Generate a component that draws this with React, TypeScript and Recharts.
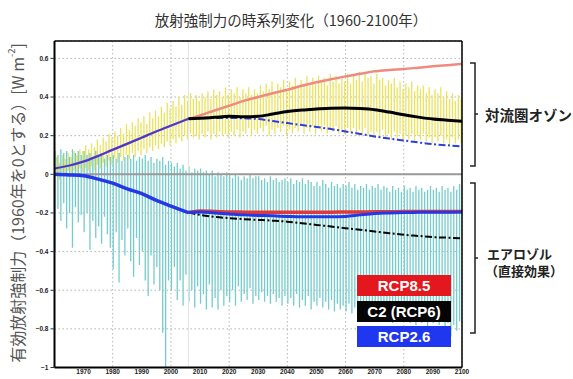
import React from 'react';
import { ComposedChart, Bar, Line, XAxis, YAxis, CartesianGrid, ReferenceLine, Legend } from 'recharts';

// ---------- categories / ticks ----------
const years: number[] = Array.from({ length: 141 }, (_, i) => 1960 + i);
const xTicks = [1970, 1980, 1990, 2000, 2010, 2020, 2030, 2040, 2050, 2060, 2070, 2080, 2090, 2100];
const yTicks = [-1, -0.8, -0.6, -0.4, -0.2, 0, 0.2, 0.4, 0.6];

// ---------- tropospheric ozone, monthly variability (yellow strokes) ----------
const yellowHigh = [
  0.07, 0.09, 0.06, 0.10, 0.08, 0.11, 0.09, 0.12, 0.10, 0.13,
  0.12, 0.15, 0.13, 0.16, 0.14, 0.18, 0.15, 0.19, 0.17, 0.21,
  0.19, 0.22, 0.20, 0.24, 0.21, 0.26, 0.23, 0.27, 0.25, 0.29,
  0.27, 0.30, 0.26, 0.32, 0.29, 0.33, 0.30, 0.35, 0.32, 0.37,
  0.34, 0.38, 0.35, 0.40, 0.36, 0.41, 0.38, 0.42, 0.39, 0.41,
  0.38, 0.42, 0.40, 0.43, 0.39, 0.44, 0.41, 0.43, 0.40, 0.45,
  0.41, 0.44, 0.42, 0.45, 0.40, 0.44, 0.42, 0.45, 0.41, 0.44,
  0.42, 0.46, 0.43, 0.47, 0.44, 0.48, 0.43, 0.47, 0.45, 0.49,
  0.44, 0.48, 0.46, 0.50, 0.45, 0.49, 0.47, 0.51, 0.46, 0.50,
  0.47, 0.51, 0.48, 0.50, 0.46, 0.52, 0.48, 0.51, 0.47, 0.50,
  0.48, 0.52, 0.47, 0.51, 0.49, 0.53, 0.48, 0.52, 0.50, 0.51,
  0.47, 0.52, 0.49, 0.50, 0.46, 0.49, 0.47, 0.50, 0.45, 0.48,
  0.44, 0.47, 0.45, 0.48, 0.43, 0.46, 0.44, 0.46, 0.42, 0.45,
  0.41, 0.44, 0.42, 0.45, 0.40, 0.43, 0.39, 0.42, 0.38, 0.41,
  0.39,
];
const yellowLow = [
  -0.02, 0.00, -0.03, 0.01, -0.01, 0.02, 0.00, 0.02, 0.01, 0.03,
  0.01, 0.03, 0.02, 0.04, 0.02, 0.05, 0.03, 0.06, 0.04, 0.07,
  0.05, 0.08, 0.06, 0.09, 0.07, 0.10, 0.08, 0.11, 0.09, 0.12,
  0.10, 0.13, 0.11, 0.14, 0.12, 0.15, 0.13, 0.16, 0.14, 0.17,
  0.15, 0.18, 0.16, 0.19, 0.17, 0.20, 0.18, 0.21, 0.19, 0.20,
  0.18, 0.21, 0.19, 0.22, 0.18, 0.21, 0.19, 0.22, 0.20, 0.21,
  0.19, 0.22, 0.20, 0.23, 0.19, 0.22, 0.21, 0.24, 0.20, 0.23,
  0.21, 0.24, 0.22, 0.25, 0.20, 0.23, 0.21, 0.24, 0.22, 0.25,
  0.20, 0.23, 0.21, 0.24, 0.22, 0.25, 0.21, 0.24, 0.22, 0.25,
  0.21, 0.24, 0.22, 0.25, 0.21, 0.24, 0.22, 0.25, 0.21, 0.23,
  0.21, 0.24, 0.22, 0.24, 0.20, 0.23, 0.21, 0.24, 0.20, 0.22,
  0.19, 0.22, 0.20, 0.23, 0.19, 0.21, 0.18, 0.22, 0.19, 0.21,
  0.17, 0.20, 0.18, 0.21, 0.17, 0.20, 0.18, 0.21, 0.17, 0.19,
  0.16, 0.19, 0.17, 0.20, 0.16, 0.18, 0.15, 0.19, 0.16, 0.18,
  0.16,
];

// ---------- aerosol direct effect, monthly variability (cyan strokes) ----------
const cyanHigh = [
  0.12, 0.10, 0.13, 0.11, 0.12, 0.09, 0.13, 0.11, 0.12, 0.10,
  0.12, 0.10, 0.11, 0.09, 0.12, 0.10, 0.11, 0.08, 0.10, 0.09,
  0.10, 0.08, 0.11, 0.07, 0.09, 0.10, 0.08, 0.10, 0.07, 0.09,
  0.08, 0.10, 0.07, 0.09, 0.06, 0.08, 0.07, 0.09, 0.05, 0.07,
  0.06, 0.04, 0.06, 0.03, 0.05, 0.02, 0.04, 0.01, 0.03, 0.02,
  0.03, 0.01, 0.02, 0.00, 0.02, -0.01, 0.01, 0.00, -0.01, 0.01,
  0.00, -0.02, 0.00, -0.01, -0.03, -0.01, -0.02, 0.00, -0.02, -0.01,
  -0.01, -0.03, -0.02, -0.04, -0.01, -0.03, -0.02, -0.04, -0.03, -0.02,
  -0.04, -0.02, -0.05, -0.03, -0.04, -0.02, -0.05, -0.03, -0.04, -0.06,
  -0.04, -0.06, -0.03, -0.05, -0.07, -0.04, -0.06, -0.05, -0.07, -0.05,
  -0.06, -0.04, -0.07, -0.05, -0.08, -0.06, -0.07, -0.05, -0.08, -0.06,
  -0.07, -0.05, -0.08, -0.06, -0.07, -0.09, -0.06, -0.08, -0.07, -0.09,
  -0.06, -0.08, -0.07, -0.09, -0.06, -0.08, -0.07, -0.09, -0.08, -0.06,
  -0.08, -0.07, -0.09, -0.06, -0.08, -0.07, -0.09, -0.06, -0.08, -0.05,
  -0.06,
];
const cyanLow = [
  -0.40, -0.18, -0.24, -0.15, -0.28, -0.20, -0.38, -0.17, -0.25, -0.21,
  -0.30, -0.20, -0.39, -0.24, -0.33, -0.27, -0.36, -0.22, -0.31, -0.38,
  -0.49, -0.30, -0.56, -0.34, -0.42, -0.28, -0.45, -0.53, -0.33, -0.47,
  -0.40, -0.55, -0.63, -0.42, -0.57, -0.48, -0.60, -0.82, -1.00, -0.55,
  -0.60, -0.48, -0.65, -0.55, -0.68, -0.52, -0.66, -0.60, -0.69, -0.58,
  -0.67, -0.62, -0.70, -0.57, -0.69, -0.64, -0.70, -0.60, -0.68, -0.63,
  -0.66, -0.60, -0.68, -0.58, -0.66, -0.62, -0.65, -0.59, -0.67, -0.63,
  -0.65, -0.61, -0.66, -0.63, -0.67, -0.62, -0.66, -0.64, -0.68, -0.63,
  -0.67, -0.64, -0.68, -0.62, -0.69, -0.65, -0.68, -0.63, -0.70, -0.66,
  -0.68, -0.64, -0.69, -0.66, -0.70, -0.65, -0.71, -0.67, -0.70, -0.68,
  -0.71, -0.67, -0.72, -0.69, -0.73, -0.70, -0.74, -0.71, -0.75, -0.72,
  -0.75, -0.72, -0.76, -0.73, -0.75, -0.74, -0.77, -0.73, -0.76, -0.74,
  -0.76, -0.73, -0.77, -0.75, -0.78, -0.74, -0.77, -0.75, -0.79, -0.76,
  -0.77, -0.74, -0.78, -0.76, -0.80, -0.77, -0.84, -0.78, -0.81, -0.76,
  -0.78,
];

// ---------- smooth mean curves ----------
const histYears = [1960, 1965, 1970, 1975, 1980, 1985, 1990, 1995, 2000, 2006];
const futureYears = [2006, 2010, 2015, 2020, 2025, 2030, 2035, 2040, 2045, 2050, 2055, 2060, 2065, 2070, 2075, 2080, 2085, 2090, 2095, 2100];

const ozoneHist = [0.03, 0.045, 0.066, 0.095, 0.127, 0.158, 0.19, 0.222, 0.252, 0.287];
const ozoneRcp85 = [0.287, 0.305, 0.33, 0.355, 0.38, 0.40, 0.42, 0.438, 0.458, 0.476, 0.492, 0.507, 0.52, 0.533, 0.54, 0.545, 0.552, 0.559, 0.565, 0.571];
const ozoneC2 = [0.287, 0.29, 0.295, 0.30, 0.298, 0.30, 0.312, 0.325, 0.333, 0.338, 0.342, 0.343, 0.34, 0.334, 0.322, 0.308, 0.296, 0.286, 0.28, 0.274];
const ozoneRcp26 = [0.287, 0.29, 0.292, 0.292, 0.29, 0.286, 0.276, 0.265, 0.255, 0.245, 0.234, 0.222, 0.209, 0.196, 0.185, 0.175, 0.165, 0.156, 0.15, 0.144];

const aeroHist = [0.0, -0.003, -0.008, -0.025, -0.046, -0.075, -0.10, -0.135, -0.165, -0.198];
const aeroRcp85 = [-0.198, -0.19, -0.192, -0.195, -0.196, -0.197, -0.197, -0.197, -0.197, -0.196, -0.196, -0.195, -0.195, -0.194, -0.194, -0.193, -0.193, -0.192, -0.192, -0.192];
const aeroC2 = [-0.198, -0.21, -0.22, -0.227, -0.232, -0.236, -0.24, -0.245, -0.253, -0.262, -0.27, -0.279, -0.287, -0.296, -0.305, -0.313, -0.319, -0.325, -0.328, -0.331];
const aeroRcp26 = [-0.198, -0.195, -0.20, -0.205, -0.21, -0.213, -0.215, -0.218, -0.22, -0.22, -0.22, -0.218, -0.21, -0.203, -0.2, -0.198, -0.197, -0.196, -0.196, -0.195];

const legendItems = [
  { label: 'RCP8.5', color: '#e3171d' },
  { label: 'C2 (RCP6)', color: '#050505' },
  { label: 'RCP2.6', color: '#1f37ef' },
];

const W = 573;
const H = 379;
const CJK = '"Noto Sans CJK JP", "Noto Sans CJK SC", sans-serif';
const LAT = '"Liberation Sans", Arial, sans-serif';

const mk = (xs: number[], vs: number[]) => xs.map((year, i) => ({ year, v: vs[i] }));
const fmtY = (v: number) => (v === 0 ? '0' : (v < 0 ? '\u2212' : '') + String(Math.abs(v)));

export default function App() {
  const bandData = years.map((year, i) => ({
    year,
    ozone: [yellowLow[i], yellowHigh[i]],
    aero: [cyanLow[i], cyanHigh[i]],
  }));
  const ozoneAll85 = mk(histYears.slice(0, -1).concat(futureYears), ozoneHist.slice(0, -1).concat(ozoneRcp85));
  const tick = { fontSize: 6.5, fontWeight: 700, fill: '#222', fontFamily: LAT };

  return (
    <div style={{ position: 'absolute', left: 0, top: 0, width: W, height: H, background: '#fff', overflow: 'hidden' }}>
      <ComposedChart
        width={W}
        height={H}
        data={bandData}
        margin={{ top: 41, right: 111, bottom: 0, left: 0 }}
        barGap={0}
        barCategoryGap={0}
      >
        <CartesianGrid stroke="#b4b4b4" strokeDasharray="1.5 2.5" />
        <XAxis
          dataKey="year"
          type="number"
          domain={[1960, 2100]}
          ticks={xTicks}
          allowDataOverflow
          height={11.5}
          tickLine={false}
          tickSize={0}
          tickMargin={1.5}
          axisLine={{ stroke: '#000', strokeWidth: 2 }}
          tick={tick}
        />
        <YAxis
          type="number"
          domain={[-1, 0.69]}
          ticks={yTicks}
          allowDataOverflow
          width={54.5}
          tickSize={4}
          tickMargin={2}
          tickFormatter={fmtY}
          tickLine={{ stroke: '#333' }}
          axisLine={{ stroke: '#000', strokeWidth: 2 }}
          tick={tick}
        />
        <ReferenceLine x={2006} stroke="#e4e4e4" strokeWidth={1} />
        <Bar dataKey="ozone" fill="#ebe35c" barSize={1.8} isAnimationActive={false} />
        <Bar dataKey="aero" fill="#74cdcc" barSize={1.8} isAnimationActive={false} />
        <ReferenceLine y={0} stroke="#9a9a9a" strokeWidth={2} />

        <Line data={ozoneAll85} dataKey="v" type="monotone" stroke="#ef8a80" strokeWidth={2.5} dot={false} isAnimationActive={false} />
        <Line data={mk(futureYears, ozoneRcp26)} dataKey="v" type="monotone" stroke="#2b3fe0" strokeWidth={2} strokeDasharray="7 2.5 2 2.5" dot={false} isAnimationActive={false} />
        <Line data={mk(futureYears, ozoneC2)} dataKey="v" type="monotone" stroke="#000" strokeWidth={3} dot={false} isAnimationActive={false} />
        <Line data={mk(histYears, ozoneHist)} dataKey="v" type="monotone" stroke="#3b3cd4" strokeWidth={2} dot={false} isAnimationActive={false} />

        <Line data={mk(futureYears, aeroC2)} dataKey="v" type="monotone" stroke="#000" strokeWidth={2} strokeDasharray="7 2.5 2 2.5" dot={false} isAnimationActive={false} />
        <Line data={mk(futureYears, aeroRcp85)} dataKey="v" type="monotone" stroke="#e0393a" strokeWidth={3.5} dot={false} isAnimationActive={false} />
        <Line data={mk(futureYears, aeroRcp26)} dataKey="v" type="monotone" stroke="#2438e8" strokeWidth={3} dot={false} isAnimationActive={false} />
        <Line data={mk(histYears, aeroHist)} dataKey="v" type="monotone" stroke="#2438e8" strokeWidth={3.5} dot={false} isAnimationActive={false} />

        <ReferenceLine y={0.69} stroke="#000" strokeWidth={1.5} />
        <ReferenceLine x={2100} stroke="#000" strokeWidth={1.5} />

        <Legend
          layout="horizontal"
          verticalAlign="middle"
          align="center"
          wrapperStyle={{ position: 'absolute', left: 357, top: 275, width: 94, height: 72 }}
          content={() => (
            <div>
              {legendItems.map((it) => (
                <div
                  key={it.label}
                  style={{
                    background: it.color,
                    height: 21,
                    marginBottom: 4.5,
                    color: '#fff',
                    fontFamily: LAT,
                    fontWeight: 700,
                    fontSize: 15,
                    lineHeight: '21px',
                    textAlign: 'center',
                  }}
                >
                  {it.label}
                </div>
              ))}
            </div>
          )}
        />
      </ComposedChart>

      <svg width={W} height={H} style={{ position: 'absolute', left: 0, top: 0, pointerEvents: 'none' }}>
        <text x={291} y={19} textAnchor="middle" dominantBaseline="central" fontSize={14.5} fill="#333" fontFamily={CJK}>
          放射強制力の時系列変化（1960-2100年）
        </text>
        <text transform="translate(17,43) rotate(-90)" textAnchor="end" dominantBaseline="central" fontSize={16} fill="#555" fontFamily={CJK}>
          有効放射強制力（1960年を0とする）[W m<tspan dy={-6} fontSize={9.5}>-2</tspan><tspan dy={6}>]</tspan>
        </text>
        <path d="M470,63 H475 V166 H470 M475,114 H478" fill="none" stroke="#222" strokeWidth={1.5} />
        <path d="M470,183 H475 V333 H470 M475,258 H478" fill="none" stroke="#222" strokeWidth={1.5} />
        <text x={485} y={114} dominantBaseline="central" fontSize={14.5} fontWeight={700} fill="#222" fontFamily={CJK}>
          対流圏オゾン
        </text>
        <text x={487} y={253} dominantBaseline="central" fontSize={13} fontWeight={700} fill="#222" fontFamily={CJK}>
          エアロゾル
        </text>
        <text x={485} y={270} dominantBaseline="central" fontSize={13} fontWeight={700} fill="#222" fontFamily={CJK}>
          （直接効果）
        </text>
      </svg>
    </div>
  );
}
